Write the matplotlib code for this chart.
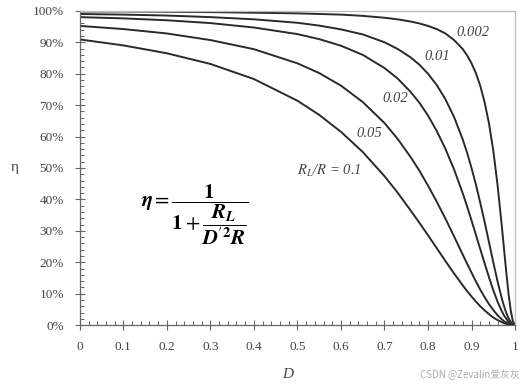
import numpy as np
import matplotlib
matplotlib.use("Agg")
import matplotlib.pyplot as plt
from matplotlib.ticker import MultipleLocator, PercentFormatter

# duty cycle samples (denser near D = 1 where curves drop)
D = [0, 0.1, 0.2, 0.3, 0.4, 0.5, 0.55, 0.6, 0.65, 0.7, 0.73, 0.76, 0.78, 0.8,
     0.82, 0.84, 0.86, 0.88, 0.89, 0.9, 0.91, 0.92, 0.93, 0.94, 0.95, 0.96,
     0.97, 0.975, 0.98, 0.985, 0.99, 0.995, 1.0]

# efficiency, one list per R_L/R
eta_0p1 = [0.909, 0.890, 0.865, 0.831, 0.783, 0.714, 0.669, 0.615, 0.551, 0.474,
           0.422, 0.365, 0.326, 0.286, 0.245, 0.204, 0.164, 0.126, 0.108, 0.091,
           0.075, 0.060, 0.047, 0.035, 0.024, 0.016, 0.009, 0.006, 0.004, 0.002,
           0.001, 0.0, 0.0]
eta_0p05 = [0.952, 0.942, 0.928, 0.907, 0.878, 0.833, 0.802, 0.762, 0.710, 0.643,
            0.593, 0.535, 0.492, 0.444, 0.393, 0.339, 0.282, 0.224, 0.195, 0.167,
            0.139, 0.113, 0.089, 0.067, 0.048, 0.031, 0.018, 0.012, 0.008, 0.0045,
            0.002, 0.0005, 0.0]
eta_0p02 = [0.980, 0.976, 0.970, 0.961, 0.947, 0.926, 0.910, 0.889, 0.860, 0.818,
            0.785, 0.742, 0.708, 0.667, 0.618, 0.561, 0.495, 0.419, 0.377, 0.333,
            0.288, 0.242, 0.197, 0.153, 0.111, 0.074, 0.043, 0.030, 0.020, 0.011,
            0.005, 0.001, 0.0]
eta_0p01 = [0.990, 0.988, 0.985, 0.980, 0.973, 0.962, 0.953, 0.941, 0.925, 0.900,
            0.879, 0.852, 0.829, 0.800, 0.764, 0.719, 0.662, 0.590, 0.548, 0.500,
            0.448, 0.390, 0.329, 0.265, 0.200, 0.138, 0.083, 0.059, 0.038, 0.022,
            0.010, 0.0025, 0.0]
eta_0p002 = [0.998, 0.998, 0.997, 0.996, 0.994, 0.992, 0.990, 0.988, 0.984, 0.978,
             0.973, 0.966, 0.960, 0.952, 0.942, 0.928, 0.907, 0.878, 0.858, 0.833,
             0.802, 0.762, 0.710, 0.643, 0.556, 0.444, 0.310, 0.238, 0.167, 0.101,
             0.048, 0.012, 0.0]

curve_labels = ["$R_L$/$R$ = 0.1", "0.05", "0.02", "0.01", "0.002"]
label_pos = [(0.572, 0.49), (0.666, 0.61), (0.726, 0.72), (0.821, 0.854), (0.903, 0.93)]

plt.rcParams['font.family'] = ['Liberation Serif', 'DejaVu Serif']
plt.rcParams['mathtext.fontset'] = 'stix'

fig = plt.figure(figsize=(5.25, 3.87), dpi=100)
ax = fig.add_axes([0.152, 0.160, 0.829, 0.812])

for eta in [eta_0p1, eta_0p05, eta_0p02, eta_0p01, eta_0p002]:
    ax.plot(D, np.array(eta) * 100, color='#2a2a2a', lw=1.4)

for txt, (x, y) in zip(curve_labels, label_pos):
    ax.text(x, y * 100, txt, style='italic', fontsize=10.5, color='#444444',
            ha='center', va='center')

formula = (r'$\mathbfit{\eta} = \dfrac{\mathbf{1}}{\mathbf{1} + '
           r'\dfrac{\mathbfit{R}_\mathbfit{L}}{\mathbfit{D}^{\prime\mathbf{2}}\mathbfit{R}}}$')
ax.text(0.264, 35, formula, fontsize=15, ha='center', va='center', color='black')

ax.set_xlim(0, 1)
ax.set_ylim(0, 100)
ax.xaxis.set_minor_locator(MultipleLocator(0.02))
ax.yaxis.set_major_locator(MultipleLocator(10))
ax.yaxis.set_minor_locator(MultipleLocator(2))
ax.yaxis.set_major_formatter(PercentFormatter(decimals=0))
ax.set_xticks(np.arange(0, 1.01, 0.1))
ax.set_xticklabels(['0', '0.1', '0.2', '0.3', '0.4', '0.5', '0.6', '0.7', '0.8', '0.9', '1'])

ax.tick_params(which='major', direction='inout', length=7, width=0.8,
               color='#666666', labelcolor='#444444', labelsize=9.5, pad=8)
ax.tick_params(which='minor', direction='in', length=3, width=0.7, color='#666666')

for s in ['left', 'bottom']:
    ax.spines[s].set_color('#666666')
    ax.spines[s].set_linewidth(0.9)
for s in ['top', 'right']:
    ax.spines[s].set_color('#bbbbbb')
    ax.spines[s].set_linewidth(0.9)

fig.text(15 / 525, 1 - 168 / 387, 'η', fontsize=11, color='#444444', ha='center', va='center')
fig.text(288 / 525, 1 - 375 / 387, 'D', style='italic', fontsize=11, color='#444444',
         ha='center', va='center')
fig.text(470 / 525, 1 - 375 / 387, 'CSDN @Zevalin爱灰灰', fontsize=7, color='#aaaaaa',
         ha='center', va='center', family=['Noto Sans CJK SC', 'DejaVu Sans'])

fig.savefig('out.png', dpi=100)
